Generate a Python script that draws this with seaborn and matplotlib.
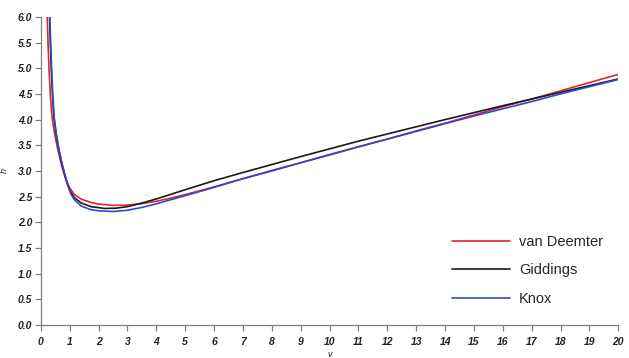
import matplotlib
matplotlib.use("Agg")
import matplotlib.pyplot as plt
import seaborn as sns
import pandas as pd

# ---- data ----
series_names = ["van Deemter", "Giddings", "Knox"]

v_vandeemter = [0.20, 0.22, 0.25, 0.28, 0.33, 0.39, 0.47, 0.57, 0.66, 0.74, 0.85, 1.0,
                1.16, 1.4, 1.74, 2.0, 2.5, 3.0, 3.5, 4.0, 4.5, 5, 6, 7, 8, 9, 10,
                11, 12, 13, 14, 15, 16, 17, 18, 19, 20]
h_vandeemter = [6.6, 6.0, 5.45, 5.0, 4.45, 4.02, 3.74, 3.46, 3.24, 3.06, 2.86, 2.67,
                2.54, 2.45, 2.385, 2.355, 2.33, 2.335, 2.365, 2.41, 2.47, 2.54, 2.69, 2.85,
                3.01, 3.16, 3.31, 3.47, 3.62, 3.78, 3.93, 4.09, 4.25, 4.40, 4.56, 4.72, 4.88]

v_giddings = [0.27, 0.30, 0.33, 0.36, 0.40, 0.45, 0.52, 0.6, 0.7, 0.8, 0.9, 1.0, 1.16,
              1.4, 1.74, 2.2, 2.6, 3.0, 3.5, 4, 4.5, 5, 6, 7, 8, 9, 10, 11, 12, 13, 14,
              15, 16, 17, 18, 19, 20]
h_giddings = [6.6, 6.0, 5.45, 5.0, 4.5, 4.05, 3.75, 3.48, 3.2, 2.98, 2.78, 2.62, 2.48,
              2.375, 2.305, 2.27, 2.275, 2.305, 2.375, 2.455, 2.545, 2.635, 2.81, 2.97,
              3.125, 3.28, 3.43, 3.58, 3.72, 3.86, 4.00, 4.135, 4.27, 4.40, 4.53, 4.66, 4.79]

v_knox = [0.28, 0.31, 0.34, 0.37, 0.41, 0.46, 0.53, 0.61, 0.71, 0.82, 0.92, 1.04, 1.16,
          1.4, 1.74, 2.0, 2.5, 3.0, 3.5, 4, 4.5, 5, 6, 7, 8, 9, 10, 11, 12, 13, 14, 15,
          16, 17, 18, 19, 20]
h_knox = [6.6, 6.0, 5.45, 5.0, 4.5, 4.05, 3.74, 3.46, 3.2, 2.95, 2.74, 2.55, 2.44,
          2.315, 2.245, 2.225, 2.21, 2.235, 2.29, 2.36, 2.44, 2.52, 2.68, 2.85, 3.00,
          3.16, 3.32, 3.47, 3.62, 3.77, 3.92, 4.07, 4.21, 4.35, 4.50, 4.64, 4.78]

x_ticks = list(range(0, 21))
y_ticks = [0.0, 0.5, 1.0, 1.5, 2.0, 2.5, 3.0, 3.5, 4.0, 4.5, 5.0, 5.5, 6.0]
x_label = "v"
y_label = "h"

colors = {"van Deemter": "#e02828", "Giddings": "#1a1a1a", "Knox": "#3246d2"}

df = pd.concat([
    pd.DataFrame({"v": v_vandeemter, "h": h_vandeemter, "model": series_names[0]}),
    pd.DataFrame({"v": v_giddings, "h": h_giddings, "model": series_names[1]}),
    pd.DataFrame({"v": v_knox, "h": h_knox, "model": series_names[2]}),
], ignore_index=True)

sns.set_style("ticks")
plt.rcParams["font.family"] = ["Liberation Sans", "DejaVu Sans"]

fig = plt.figure(figsize=(6.29, 3.58), dpi=100)
ax = fig.add_axes([0.065, 0.092, 0.918, 0.861])

sns.lineplot(data=df, x="v", y="h", hue="model", hue_order=series_names,
             palette=colors, estimator=None, sort=False, linewidth=1.2, ax=ax)

ax.set_xlim(0, 20)
ax.set_ylim(0, 6)
ax.set_xticks(x_ticks)
ax.set_yticks(y_ticks)
ax.set_xticklabels([str(t) for t in x_ticks])
ax.set_yticklabels([f"{t:.1f}" for t in y_ticks])

for lab in ax.get_xticklabels() + ax.get_yticklabels():
    lab.set_fontstyle("italic")
    lab.set_fontweight("bold")
    lab.set_fontsize(7.5)
    lab.set_color("#222222")

ax.tick_params(axis="both", direction="out", length=4.3, width=0.9, color="#808080")
ax.tick_params(axis="x", pad=4.5)
ax.tick_params(axis="y", pad=2)

for side in ["top", "right"]:
    ax.spines[side].set_visible(False)
for side in ["left", "bottom"]:
    ax.spines[side].set_color("#808080")
    ax.spines[side].set_linewidth(0.9)

ax.set_xlabel(x_label, fontsize=6.5, style="italic", color="#222222")
ax.set_ylabel(y_label, fontsize=6.5, style="italic", color="#222222")
ax.xaxis.set_label_coords(0.5, -0.08)
ax.yaxis.set_label_coords(-0.055, 0.5)

handles, labels = ax.get_legend_handles_labels()
ax.legend(handles, labels, frameon=False, loc="upper left",
          bbox_to_anchor=(0.7186, 0.344), bbox_transform=fig.transFigure,
          fontsize=10.5, handlelength=4.0, handletextpad=0.6, labelspacing=1.0,
          borderpad=0, borderaxespad=0)

fig.savefig("out.png", dpi=100)
